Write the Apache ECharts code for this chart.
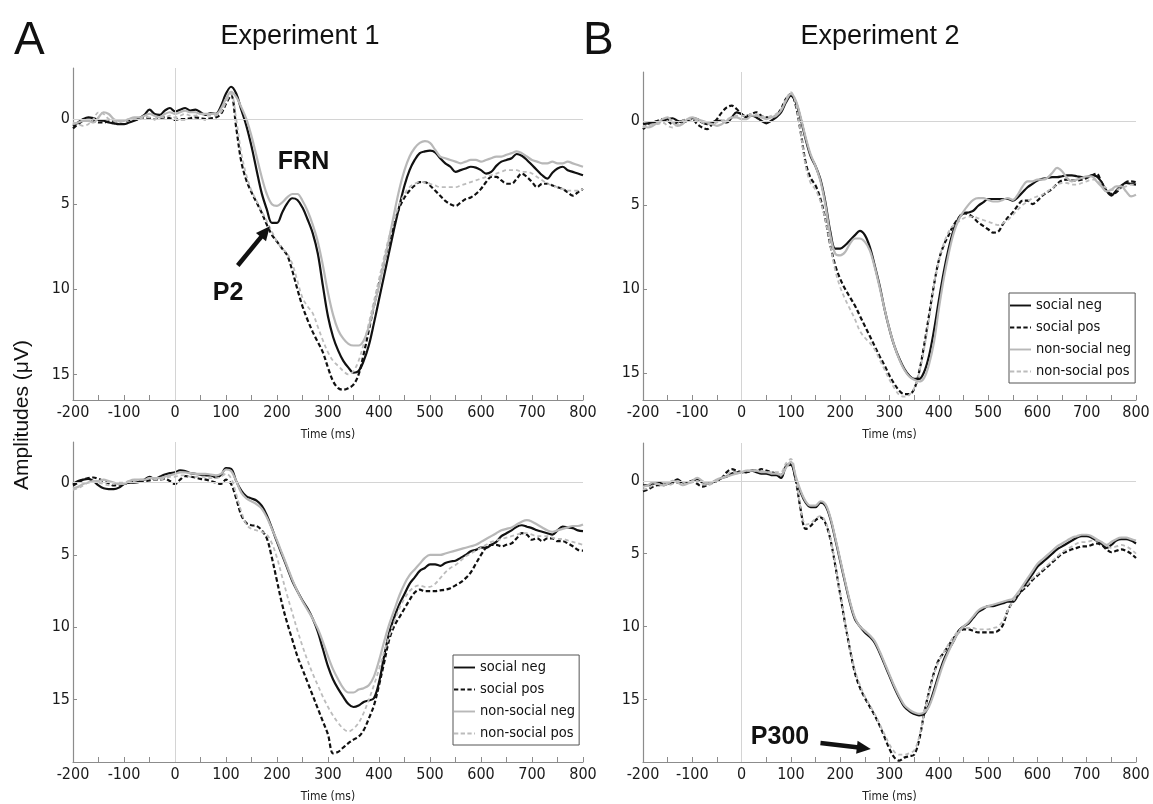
<!DOCTYPE html>
<html><head><meta charset="utf-8">
<script src="https://cdn.jsdelivr.net/npm/echarts@6/dist/echarts.min.js"></script>
<style>html,body{margin:0;padding:0;background:#fff}#c{width:1153px;height:804px}</style>
</head><body><div id="c"></div>
<script>
// ---- data ----
const times = [
 -200,-190,-180,-170,-160,-150,-140,-130,-120,-110,
 -100,-90,-80,-70,-60,-50,-40,-30,-20,-10,
 0,10,20,30,40,50,60,70,80,90,
 100,110,120,130,140,150,160,170,180,190,
 200,210,220,230,240,250,260,270,280,290,
 300,310,320,330,340,350,360,370,380,390,
 400,410,420,430,440,450,460,470,480,490,
 500,510,520,530,540,550,560,570,580,590,
 600,610,620,630,640,650,660,670,680,690,
 700,710,720,730,740,750,760,770,780,790,
 800];
const seriesNames = ['social neg','social pos','non-social neg','non-social pos'];
const xTickValues = [-200,-100,0,100,200,300,400,500,600,700,800];
const yTickValues = [0,5,10,15];
const panelTitles = ['Experiment 1','Experiment 2'];
const panelLetters = ['A','B'];
const yAxisTitle = 'Amplitudes (\u03bcV)';
const xAxisTitle = 'Time (ms)';

// Experiment 1, upper panel
const aTopSocNeg = [
 0.4,0.2,0.0,-0.1,-0.05,0.05,0.1,0.2,0.25,0.3,
 0.3,0.2,0.1,-0.05,-0.25,-0.55,-0.3,-0.25,-0.5,-0.65,
 -0.45,-0.55,-0.65,-0.5,-0.55,-0.4,-0.25,-0.35,-0.3,-0.75,
 -1.5,-1.9,-1.5,-0.55,0.4,1.6,3.0,4.35,5.3,6.1,
 6.1,5.5,4.95,4.65,4.75,5.2,5.9,6.7,7.9,9.8,
 11.6,12.8,13.6,14.2,14.6,14.9,14.8,14.2,13.3,12.0,
 10.6,9.2,7.8,6.4,5.1,3.9,3.0,2.4,2.0,1.9,
 1.85,1.95,2.3,2.6,2.8,3.1,3.0,2.9,2.8,2.85,
 3.0,3.2,3.1,2.75,2.5,2.4,2.3,2.05,2.15,2.4,
 2.7,3.0,3.3,3.5,3.15,2.9,2.8,3.0,3.1,3.2,
 3.3];
const aTopSocPos = [
 0.55,0.3,0.1,0.05,0.1,0.2,0.2,0.15,0.15,0.1,
 0.1,0.05,0.05,0.0,-0.1,-0.05,0.0,-0.05,-0.1,-0.05,
 0.05,0.0,0.0,-0.05,-0.1,-0.05,0.0,-0.05,-0.1,-0.3,
 -0.9,-1.4,0.5,2.5,3.6,4.3,4.9,5.5,6.2,6.8,
 7.2,7.6,8.0,8.9,10.0,11.0,11.8,12.5,13.1,13.7,
 14.6,15.4,15.8,15.9,15.8,15.6,15.0,13.8,12.4,11.0,
 9.7,8.4,7.2,6.1,5.2,4.6,4.2,3.9,3.7,3.7,
 3.9,4.2,4.5,4.8,5.0,5.1,4.9,4.7,4.6,4.4,
 4.1,3.7,3.4,3.4,3.6,3.8,3.8,3.5,3.2,3.4,
 3.7,4.0,3.8,3.8,3.9,4.0,4.1,4.3,4.5,4.3,
 4.1];
const aTopNsNeg = [
 0.3,0.2,0.1,0.1,0.2,-0.1,-0.4,-0.3,0.0,0.1,
 0.1,0.0,-0.1,-0.1,-0.2,-0.3,-0.2,-0.1,-0.3,-0.4,
 -0.3,-0.4,-0.5,-0.4,-0.4,-0.3,-0.3,-0.3,-0.3,-0.6,
 -1.2,-1.6,-1.3,-0.7,0.0,1.0,2.2,3.4,4.4,5.0,
 5.1,4.9,4.6,4.4,4.4,4.8,5.4,6.2,7.2,8.6,
 10.2,11.5,12.4,12.9,13.2,13.3,13.3,13.0,12.2,11.0,
 9.8,8.4,7.0,5.5,4.1,3.0,2.2,1.7,1.4,1.3,
 1.4,1.8,2.2,2.3,2.4,2.5,2.6,2.5,2.4,2.4,
 2.5,2.4,2.3,2.2,2.2,2.1,2.0,1.9,2.0,2.2,
 2.4,2.5,2.6,2.6,2.5,2.6,2.6,2.5,2.6,2.7,
 2.8];
const aTopNsPos = [
 0.2,0.3,0.4,0.3,0.0,-0.4,-0.3,0.0,0.1,0.2,
 0.1,0.0,0.0,0.0,-0.1,-0.1,0.0,-0.1,-0.1,-0.2,
 -0.1,-0.2,-0.3,-0.2,-0.2,-0.3,-0.2,-0.2,-0.2,-0.4,
 -1.0,-1.5,0.0,2.0,3.3,4.2,4.8,5.4,6.0,6.6,
 7.2,7.6,7.9,8.5,9.5,10.5,11.0,11.4,12.2,13.0,
 13.7,14.2,14.5,14.8,15.0,14.8,14.2,13.2,12.0,10.7,
 9.4,8.1,6.9,5.9,5.0,4.4,4.0,3.8,3.7,3.7,
 3.8,3.9,4.0,4.0,4.0,4.0,3.9,3.8,3.7,3.6,
 3.5,3.4,3.3,3.2,3.1,3.0,3.0,3.0,3.1,3.1,
 3.2,3.4,3.6,3.8,3.9,4.0,4.1,4.2,4.2,4.2,
 4.1];

// Experiment 1, lower panel
const aBotSocNeg = [
 0.1,-0.1,-0.2,-0.25,-0.1,0.2,0.4,0.45,0.45,0.35,
 0.1,0.0,0.0,-0.05,-0.2,-0.4,-0.25,-0.4,-0.55,-0.65,
 -0.7,-0.85,-0.8,-0.65,-0.6,-0.55,-0.5,-0.5,-0.35,-0.5,
 -1.0,-0.95,-0.1,0.55,0.95,1.1,1.25,1.6,2.25,3.15,
 4.1,5.0,5.9,6.8,7.5,8.15,8.7,9.4,10.3,11.5,
 12.7,13.6,14.25,14.8,15.3,15.5,15.4,15.15,15.05,14.9,
 13.8,12.0,10.4,9.3,8.4,7.7,7.0,6.55,6.1,5.9,
 5.65,5.65,5.75,5.55,5.45,5.4,5.2,5.0,4.75,4.65,
 4.5,4.5,4.3,4.1,3.7,3.5,3.3,3.05,2.95,3.05,
 3.15,3.3,3.4,3.5,3.6,3.3,3.05,3.1,3.15,3.3,
 3.35];
const aBotSocPos = [
 0.2,0.0,-0.2,-0.3,-0.35,-0.25,-0.1,0.05,0.2,0.15,
 0.1,0.0,-0.05,-0.1,-0.1,-0.15,-0.2,-0.2,-0.25,-0.1,
 0.1,-0.2,-0.45,-0.4,-0.35,-0.25,-0.2,-0.1,0.0,0.1,
 -0.2,0.1,1.1,2.25,2.8,2.95,3.0,3.3,3.85,5.2,
 6.8,8.4,9.7,10.85,12.0,12.9,13.8,14.7,15.6,16.5,
 17.4,18.7,18.6,18.3,18.0,17.75,17.55,17.1,16.3,15.4,
 14.0,12.45,10.85,9.9,9.3,8.7,8.1,7.6,7.4,7.5,
 7.5,7.5,7.45,7.4,7.3,7.1,6.9,6.6,6.2,5.6,
 5.0,4.5,4.3,4.3,4.4,4.3,4.2,3.85,3.5,3.6,
 3.95,3.85,4.05,3.85,3.85,4.05,4.05,4.2,4.4,4.65,
 4.7];
const aBotNsNeg = [
 0.4,0.3,0.1,0.0,-0.1,-0.1,-0.2,-0.1,0.0,0.1,
 0.1,-0.1,-0.2,-0.2,-0.2,-0.3,-0.3,-0.3,-0.4,-0.5,
 -0.6,-0.7,-0.7,-0.65,-0.6,-0.6,-0.6,-0.55,-0.5,-0.6,
 -0.9,-0.8,-0.1,0.7,1.1,1.3,1.5,1.8,2.4,3.2,
 4.0,4.9,5.8,6.7,7.5,8.2,8.8,9.4,10.1,11.0,
 12.0,12.9,13.6,14.2,14.5,14.5,14.3,14.2,14.0,13.4,
 12.3,11.0,9.8,8.8,7.8,7.0,6.4,6.0,5.6,5.2,
 5.0,5.0,5.0,4.9,4.8,4.7,4.6,4.5,4.4,4.3,
 4.1,3.9,3.7,3.5,3.3,3.2,3.1,2.9,2.7,2.6,
 2.7,2.9,3.1,3.3,3.4,3.3,3.2,3.1,3.0,3.0,
 2.9];
const aBotNsPos = [
 0.5,0.4,0.2,0.0,-0.1,0.0,0.1,0.2,0.1,0.0,
 0.0,-0.1,-0.1,-0.2,-0.2,-0.3,-0.2,-0.2,-0.3,-0.4,
 -0.4,-0.5,-0.5,-0.4,-0.4,-0.4,-0.4,-0.3,-0.3,-0.4,
 -0.6,-0.3,0.8,2.0,2.9,3.2,3.3,3.4,3.6,4.2,
 5.2,6.5,7.8,9.0,10.2,11.3,12.3,13.2,14.0,14.8,
 15.5,16.1,16.6,17.0,17.2,17.0,16.6,15.9,15.0,14.0,
 12.9,11.7,10.6,9.6,8.7,8.0,7.5,7.2,7.1,7.2,
 7.2,7.0,6.6,6.2,5.9,5.7,5.4,5.1,4.9,4.7,
 4.5,4.3,4.1,4.0,3.9,3.8,3.7,3.6,3.5,3.5,
 3.6,3.7,3.7,3.7,3.8,3.9,3.9,4.0,4.1,4.2,
 4.3];

// Experiment 2, upper panel
const bTopSocNeg = [
 0.2,0.15,0.1,0.05,0.0,-0.1,-0.15,0.0,0.1,0.0,
 -0.15,-0.1,0.1,0.2,0.1,0.0,0.0,0.1,-0.2,-0.5,
 -0.4,-0.2,-0.3,-0.2,0.0,0.15,0.0,-0.2,-0.5,-1.1,
 -1.5,-1.1,-0.1,1.1,2.1,2.7,3.5,4.85,6.6,7.6,
 7.6,7.4,7.1,6.8,6.55,6.8,7.5,8.6,9.8,11.2,
 12.4,13.4,14.15,14.75,15.15,15.35,15.35,14.95,14.0,12.5,
 10.7,9.0,7.6,6.5,5.8,5.5,5.45,5.35,5.05,4.85,
 4.65,4.65,4.65,4.65,4.65,4.75,4.55,4.25,3.95,3.75,
 3.55,3.45,3.4,3.35,3.35,3.3,3.25,3.25,3.3,3.35,
 3.35,3.25,3.3,3.65,4.15,4.45,4.15,3.85,3.7,3.75,
 3.8];
const bTopSocPos = [
 0.5,0.25,0.1,0.0,-0.1,0.0,0.2,0.1,0.0,-0.1,
 -0.1,0.2,0.4,0.5,0.2,-0.1,-0.5,-0.8,-0.9,-0.7,
 -0.4,-0.3,-0.4,-0.5,-0.3,-0.2,-0.2,-0.3,-0.7,-1.3,
 -1.6,-0.9,0.7,2.5,3.4,3.85,4.65,5.85,7.4,8.6,
 9.4,10.0,10.5,11.0,11.6,12.2,12.8,13.4,14.0,14.55,
 15.15,15.65,16.05,16.25,16.25,15.95,14.95,13.4,11.6,9.8,
 8.3,7.4,6.8,6.2,5.8,5.5,5.55,5.75,6.05,6.25,
 6.45,6.65,6.6,6.15,5.75,5.45,5.05,4.75,4.75,4.95,
 4.75,4.45,4.25,4.05,3.75,3.55,3.5,3.55,3.55,3.5,
 3.4,3.25,3.15,3.65,4.15,4.35,4.25,3.95,3.65,3.6,
 3.65];
const bTopNsNeg = [
 0.3,0.4,0.3,0.1,-0.1,-0.2,0.1,0.3,0.2,-0.1,
 -0.2,-0.1,0.0,0.1,0.2,0.3,0.2,0.0,-0.2,-0.2,
 -0.1,-0.1,-0.3,-0.3,-0.2,-0.1,-0.2,-0.3,-0.6,-1.2,
 -1.6,-1.2,-0.2,1.0,2.0,2.7,3.6,5.0,6.8,7.9,
 8.0,7.8,7.3,7.0,7.0,7.2,7.7,8.7,9.9,11.2,
 12.4,13.4,14.2,14.8,15.2,15.4,15.5,15.3,14.5,13.2,
 11.2,9.4,7.9,6.7,5.9,5.4,5.0,4.7,4.6,4.6,
 4.7,4.8,4.8,4.7,4.6,4.7,4.4,3.9,3.6,3.6,
 3.5,3.5,3.4,3.1,2.8,3.0,3.4,3.6,3.5,3.4,
 3.3,3.3,3.6,3.9,4.2,4.1,3.9,3.9,4.2,4.5,
 4.4];
const bTopNsPos = [
 0.4,0.3,0.2,0.2,0.1,0.3,0.4,0.2,0.0,-0.1,
 -0.1,0.0,0.1,0.2,0.2,0.1,0.0,-0.1,-0.2,-0.3,
 -0.3,-0.3,-0.4,-0.4,-0.3,-0.2,-0.3,-0.4,-0.7,-1.3,
 -1.7,-1.0,0.7,2.7,3.7,4.1,4.8,5.9,7.4,8.9,
 9.9,10.6,11.2,11.8,12.5,12.9,13.2,13.6,14.2,14.8,
 15.4,15.9,16.3,16.4,16.3,15.9,15.0,13.6,11.8,9.8,
 8.3,7.3,6.6,6.2,6.0,5.8,5.7,5.7,5.8,5.9,
 6.0,6.1,6.2,6.1,5.9,5.6,5.3,5.0,4.8,4.6,
 4.5,4.4,4.2,4.0,3.8,3.7,3.7,3.8,3.8,3.7,
 3.6,3.5,3.5,3.8,4.0,4.1,4.1,4.0,3.9,3.8,
 3.8];

// Experiment 2, lower panel
const bBotSocNeg = [
 0.3,0.3,0.2,0.1,0.2,0.2,0.1,-0.1,0.1,0.1,
 0.0,-0.1,0.1,0.2,0.1,0.0,-0.2,-0.3,-0.5,-0.6,
 -0.6,-0.6,-0.7,-0.6,-0.5,-0.5,-0.4,-0.4,-0.2,-1.0,
 -1.1,-0.1,0.8,1.5,1.8,1.8,1.5,1.7,2.6,4.0,
 5.5,7.0,8.4,9.5,10.0,10.4,10.7,11.1,11.8,12.6,
 13.4,14.2,14.9,15.5,15.8,16.0,16.1,16.0,15.4,14.4,
 13.3,12.3,11.6,11.0,10.3,10.0,9.8,9.4,9.0,8.8,
 8.6,8.6,8.5,8.4,8.3,8.3,7.9,7.4,6.9,6.4,
 5.9,5.6,5.3,5.0,4.7,4.5,4.3,4.1,3.9,3.8,
 3.8,3.9,4.1,4.3,4.6,4.4,4.1,4.0,4.0,4.1,
 4.3];
const bBotSocPos = [
 0.7,0.6,0.4,0.3,0.3,0.2,0.1,0.1,0.2,0.1,
 0.0,0.2,0.4,0.3,0.1,0.0,-0.2,-0.6,-0.8,-0.7,
 -0.6,-0.6,-0.7,-0.7,-0.8,-0.7,-0.6,-0.5,-0.4,-1.0,
 -1.2,0.0,2.0,3.3,3.1,2.7,2.5,2.9,4.0,5.8,
 7.8,9.8,11.6,13.2,14.2,14.9,15.5,16.1,16.8,17.6,
 18.4,19.0,19.2,19.0,18.9,18.8,17.8,16.0,14.5,13.2,
 12.3,11.8,11.3,10.8,10.4,10.2,10.2,10.3,10.4,10.4,
 10.4,10.4,10.3,9.9,8.9,8.3,7.8,7.5,7.2,6.8,
 6.5,6.2,5.9,5.6,5.3,5.0,4.85,4.7,4.6,4.5,
 4.5,4.4,4.3,4.4,4.7,4.9,4.8,4.7,4.8,5.0,
 5.3];
const bBotNsNeg = [
 0.4,0.3,0.1,0.2,0.3,0.2,0.0,0.1,0.3,0.2,
 0.0,-0.2,0.0,0.2,0.1,-0.1,-0.2,-0.3,-0.4,-0.5,
 -0.6,-0.7,-0.7,-0.7,-0.6,-0.6,-0.5,-0.5,-0.4,-0.9,
 -1.3,-0.3,0.7,1.4,1.7,1.7,1.4,1.6,2.5,3.9,
 5.4,6.9,8.3,9.4,10.0,10.3,10.6,11.0,11.7,12.5,
 13.3,14.1,14.8,15.4,15.7,15.9,16.0,15.9,15.5,14.6,
 13.5,12.5,11.7,11.0,10.4,10.0,9.7,9.3,8.9,8.7,
 8.6,8.5,8.4,8.3,8.2,8.1,7.7,7.2,6.7,6.2,
 5.7,5.4,5.1,4.8,4.5,4.3,4.1,3.9,3.8,3.7,
 3.7,3.8,4.0,4.2,4.4,4.2,4.0,3.9,3.9,4.0,
 4.1];
const bBotNsPos = [
 0.6,0.5,0.3,0.2,0.2,0.3,0.2,0.0,0.1,0.2,
 0.1,0.0,0.2,0.3,0.2,0.0,-0.2,-0.4,-0.6,-0.6,
 -0.6,-0.7,-0.7,-0.7,-0.7,-0.6,-0.6,-0.6,-0.6,-1.2,
 -1.5,-0.2,1.9,3.0,2.9,2.6,2.4,2.8,3.9,5.7,
 7.7,9.7,11.5,13.0,14.0,14.8,15.4,16.0,16.7,17.4,
 18.1,18.6,18.8,18.8,18.7,18.5,17.6,16.0,14.6,13.3,
 12.4,11.8,11.2,10.7,10.3,10.1,10.1,10.1,10.2,10.2,
 10.2,10.1,10.0,9.6,8.9,8.3,7.8,7.4,7.1,6.7,
 6.4,6.1,5.8,5.5,5.2,4.9,4.7,4.5,4.3,4.2,
 4.2,4.1,4.1,4.2,4.4,4.6,4.5,4.4,4.5,4.7,
 5.0];

// annotations in data coordinates (panel index, text, [ms, µV])
const annotationTexts = [
  {panel: 0, text: 'FRN', at: [252, 2.5]},
  {panel: 0, text: 'P2', at: [104, 10.2]},
  {panel: 3, text: 'P300', at: [78, 17.6]}
];
const annotationArrows = [
  {panel: 0, from: [123, 8.6], to: [186, 6.3]},
  {panel: 3, from: [160, 18.0], to: [262, 18.4]}
];

// ---- layout / style (not data) ----
const panelData = [
  [aTopSocNeg, aTopSocPos, aTopNsNeg, aTopNsPos],
  [aBotSocNeg, aBotSocPos, aBotNsNeg, aBotNsPos],
  [bTopSocNeg, bTopSocPos, bTopNsNeg, bTopNsPos],
  [bBotSocNeg, bBotSocPos, bBotNsNeg, bBotNsPos]
];
const grids = [
  {left: 73, top: 68, width: 510, height: 332},
  {left: 73, top: 442, width: 510, height: 325},
  {left: 643, top: 72, width: 493, height: 328},
  {left: 643, top: 443, width: 493, height: 324}
];
const yRanges = [[-3, 16.5], [-2.8, 19.3], [-2.9, 16.6], [-2.6, 19.3]];
const narrow = "'Liberation Sans Narrow','Arial Narrow','DejaVu Sans Condensed','Liberation Sans',sans-serif";
const sans = "'Liberation Sans',Arial,sans-serif";
const axisGray = '#8c8c8c';
const styles = [
  {color: '#111111', width: 2.2, type: 'solid'},
  {color: '#111111', width: 2.2, type: [4.5, 2.5]},
  {color: '#b8b8b8', width: 2.2, type: 'solid'},
  {color: '#bcbcbc', width: 1.8, type: [4, 3]}
];
const solidIcon = 'path://M0,0h22v2h-22z';
const dashIcon = 'path://M0,0h4.5v2h-4.5z M7,0h4.5v2h-4.5z M14,0h4.5v2h-4.5z M21,0h1v2h-1z';

const xAxes = grids.map((g, i) => ({
  type: 'value', gridIndex: i, min: -200, max: 800, interval: 100,
  axisLine: {show: true, onZero: false, lineStyle: {color: axisGray, width: 1.2}},
  axisTick: {show: true, inside: true, length: 5, lineStyle: {color: axisGray}},
  minorTick: {show: true, splitNumber: 2, length: 5, lineStyle: {color: axisGray}},
  splitLine: {show: false}, minorSplitLine: {show: false},
  axisLabel: {fontSize: 16, color: '#1a1a1a', fontFamily: narrow, margin: 5},
  name: xAxisTitle, nameLocation: 'middle', nameGap: 29,
  nameTextStyle: {fontSize: 12, fontFamily: narrow, color: '#222'}
}));
const yAxes = grids.map((g, i) => ({
  type: 'value', gridIndex: i, inverse: true, min: yRanges[i][0], max: yRanges[i][1],
  axisLine: {show: true, onZero: false, lineStyle: {color: axisGray, width: 1.2}},
  axisTick: {show: true, inside: true, length: 4, customValues: yTickValues, lineStyle: {color: axisGray}},
  axisLabel: {fontSize: 16, color: '#1a1a1a', fontFamily: narrow, margin: 3, customValues: yTickValues},
  splitLine: {show: false}
}));

const series = [];
panelData.forEach((sets, p) => {
  series.push({
    type: 'line', xAxisIndex: p, yAxisIndex: p, data: [], silent: true, z: 1,
    markLine: {silent: true, symbol: 'none', label: {show: false}, animation: false,
      lineStyle: {color: '#d4d4d4', width: 1, type: 'solid'},
      data: [{yAxis: 0}, {xAxis: 0}]}
  });
  sets.forEach((vals, k) => {
    series.push({
      type: 'line', name: seriesNames[k], xAxisIndex: p, yAxisIndex: p,
      data: times.map((t, j) => [t, vals[j]]),
      showSymbol: false, symbol: 'none', smooth: 0.35, z: 2 + k,
      lineStyle: {color: styles[k].color, width: styles[k].width, type: styles[k].type},
      itemStyle: {color: styles[k].color},
      emphasis: {disabled: true}
    });
  });
});

const legendData = seriesNames.map((n, k) => ({
  name: n,
  icon: (k % 2 === 0) ? solidIcon : dashIcon,
  itemStyle: {color: styles[k].color, borderWidth: 0}
}));
const legendBase = {
  data: legendData, orient: 'vertical', itemWidth: 21, itemHeight: 2.4, itemGap: 7,
  padding: [5, 4, 4, 1], borderColor: '#555', borderWidth: 1, backgroundColor: '#fff',
  textStyle: {fontSize: 14.5, fontFamily: narrow, color: '#111'}, selectedMode: false
};

const option = {
  animation: false,
  backgroundColor: '#ffffff',
  grid: grids,
  xAxis: xAxes,
  yAxis: yAxes,
  legend: [
    Object.assign({}, legendBase, {left: 453, top: 655}),
    Object.assign({}, legendBase, {left: 1009, top: 293})
  ],
  series: series
};

const chart = echarts.init(document.getElementById('c'));
chart.setOption(option);

function px(p, pt) { return chart.convertToPixel({xAxisIndex: p, yAxisIndex: p}, pt); }
const graphics = [];
graphics.push({type: 'text', x: 14, y: 18, style: {text: panelLetters[0], font: '46px ' + sans, fill: '#111'}});
graphics.push({type: 'text', x: 583, y: 18, style: {text: panelLetters[1], font: '46px ' + sans, fill: '#111'}});
graphics.push({type: 'text', x: 300, y: 37, style: {text: panelTitles[0], font: '27px ' + sans, fill: '#111', align: 'center', verticalAlign: 'middle', textAlign: 'center', textVerticalAlign: 'middle'}});
graphics.push({type: 'text', x: 880, y: 37, style: {text: panelTitles[1], font: '27px ' + sans, fill: '#111', align: 'center', verticalAlign: 'middle', textAlign: 'center', textVerticalAlign: 'middle'}});
graphics.push({type: 'text', x: 22, y: 415, rotation: Math.PI / 2, style: {text: yAxisTitle, font: '21px ' + sans, fill: '#111', align: 'center', verticalAlign: 'middle', textAlign: 'center', textVerticalAlign: 'middle'}});
annotationTexts.forEach(a => {
  const c = px(a.panel, a.at);
  graphics.push({type: 'text', x: c[0], y: c[1], z: 100, style: {text: a.text, font: 'bold 25px ' + sans, fill: '#111', align: 'center', verticalAlign: 'middle', textAlign: 'center', textVerticalAlign: 'middle'}});
});
annotationArrows.forEach(a => {
  const s = px(a.panel, a.from), e = px(a.panel, a.to);
  const dx = e[0] - s[0], dy = e[1] - s[1], L = Math.hypot(dx, dy), ux = dx / L, uy = dy / L;
  const hl = 14, hw = 6.5;
  const bx = e[0] - ux * hl, by = e[1] - uy * hl;
  graphics.push({type: 'line', z: 100, shape: {x1: s[0], y1: s[1], x2: bx + ux * 2, y2: by + uy * 2}, style: {stroke: '#111', lineWidth: 4.5}});
  graphics.push({type: 'polygon', z: 100, shape: {points: [[e[0], e[1]], [bx - uy * hw, by + ux * hw], [bx + uy * hw, by - ux * hw]]}, style: {fill: '#111'}});
});
chart.setOption({graphic: graphics});
</script>
</body></html>
